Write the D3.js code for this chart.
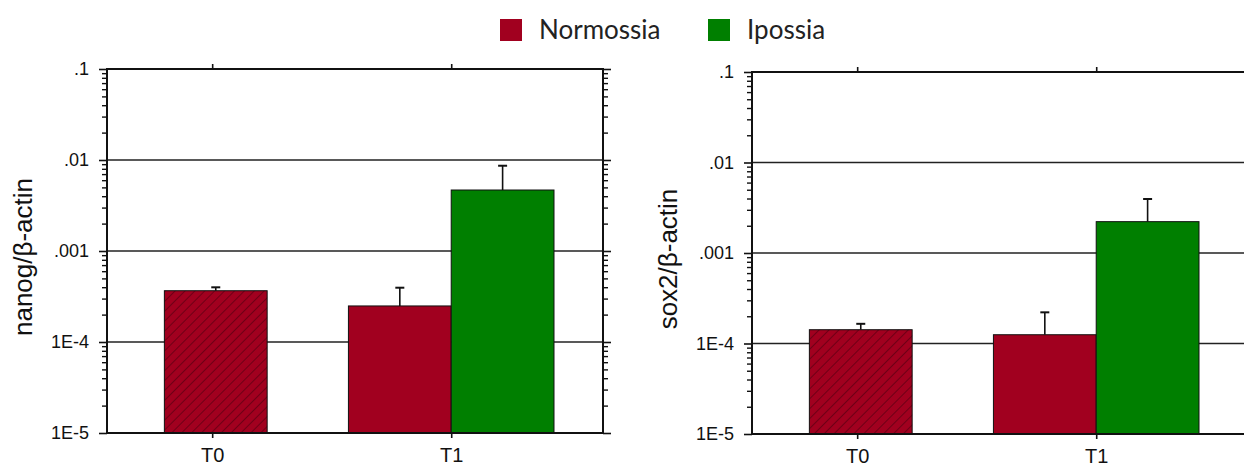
<!DOCTYPE html>
<html>
<head>
<meta charset="utf-8">
<script src="https://cdn.jsdelivr.net/npm/d3@7"></script>
<style>
  html, body { margin: 0; padding: 0; background: #fff; }
  svg { display: block; }
</style>
</head>
<body>
<svg id="chart" width="1244" height="471"></svg>
<script>
// ---- data ----
const categories = ["T0", "T1"];
const seriesNames = ["Normossia", "Ipossia"];

// nanog / β-actin (mean and upper SD)
const nanogNormossia = [3.66e-4, 2.49e-4];
const nanogNormossiaSd = [0.33e-4, 1.46e-4];
const nanogIpossia = [null, 4.68e-3];
const nanogIpossiaSd = [null, 3.97e-3];

// sox2 / β-actin (mean and upper SD)
const sox2Normossia = [1.42e-4, 1.25e-4];
const sox2NormossiaSd = [0.23e-4, 0.96e-4];
const sox2Ipossia = [null, 2.22e-3];
const sox2IpossiaSd = [null, 1.73e-3];

const yMajorTicks = [1e-5, 1e-4, 1e-3, 1e-2, 1e-1];
const yTickLabels = ["1E-5", "1E-4", ".001", ".01", ".1"];

// ---- style ----
const RED = "#A1001F";
const GREEN = "#007F00";
const AXIS_FONT = "'Liberation Sans', Arial, sans-serif";

const svg = d3.select("#chart");

const defs = svg.append("defs");
defs.append("pattern")
  .attr("id", "hatch")
  .attr("patternUnits", "userSpaceOnUse")
  .attr("width", 7).attr("height", 7)
  .attr("patternTransform", "rotate(45)")
  .append("line")
  .attr("x1", 0).attr("y1", 0).attr("x2", 0).attr("y2", 7)
  .attr("stroke", "#2a0008").attr("stroke-width", 1).attr("stroke-opacity", 0.85);

const panels = [
  { label: "nanog/β-actin", norm: nanogNormossia, normSd: nanogNormossiaSd,
    ipo: nanogIpossia, ipoSd: nanogIpossiaSd,
    left: 107, width: 496, top: 69, bottom: 433 },
  { label: "sox2/β-actin", norm: sox2Normossia, normSd: sox2NormossiaSd,
    ipo: sox2Ipossia, ipoSd: sox2IpossiaSd,
    left: 752, width: 496, top: 72, bottom: 434 }
];

function drawPanel(p) {
  const g = svg.append("g");
  const right = p.left + p.width;
  const y = d3.scaleLog().domain([1e-5, 0.1]).range([p.bottom, p.top]);
  // category index -> pixel
  const x = d3.scaleLinear().domain([-0.44, 1.635]).range([p.left, right]);
  const bw = x(0.43) - x(0);

  // minor tick values (2..9 of every decade)
  const minor = [];
  for (let e = -5; e < -1; e++) {
    for (let m = 2; m <= 9; m++) minor.push(m * Math.pow(10, e));
  }

  // grid lines at inner decades
  g.append("g").selectAll("line")
    .data(yMajorTicks.slice(1, 4))
    .join("line")
    .attr("x1", p.left).attr("x2", right)
    .attr("y1", d => y(d)).attr("y2", d => y(d))
    .attr("stroke", "#222").attr("stroke-width", 1.6);

  // bars
  const bars = [];
  categories.forEach((c, i) => {
    const hasN = p.norm[i] != null, hasI = p.ipo[i] != null;
    if (hasN && hasI) {
      bars.push({ i, v: p.norm[i], sd: p.normSd[i], x0: x(i) - bw, color: RED, hatch: false });
      bars.push({ i, v: p.ipo[i], sd: p.ipoSd[i], x0: x(i), color: GREEN, hatch: false });
    } else if (hasN) {
      bars.push({ i, v: p.norm[i], sd: p.normSd[i], x0: x(i + 0.015) - bw / 2, color: RED, hatch: true });
    } else if (hasI) {
      bars.push({ i, v: p.ipo[i], sd: p.ipoSd[i], x0: x(i + 0.015) - bw / 2, color: GREEN, hatch: false });
    }
  });

  const bg = g.append("g");
  bars.forEach(b => {
    const top = y(b.v);
    bg.append("rect")
      .attr("x", b.x0).attr("y", top)
      .attr("width", bw).attr("height", p.bottom - top)
      .attr("fill", b.color);
    if (b.hatch) {
      bg.append("rect")
        .attr("x", b.x0).attr("y", top)
        .attr("width", bw).attr("height", p.bottom - top)
        .attr("fill", "url(#hatch)");
    }
    bg.append("rect")
      .attr("x", b.x0).attr("y", top)
      .attr("width", bw).attr("height", p.bottom - top)
      .attr("fill", "none").attr("stroke", "#111").attr("stroke-width", 1);
    // upper error bar
    const cx = b.x0 + bw / 2;
    const et = y(b.v + b.sd);
    bg.append("line").attr("x1", cx).attr("x2", cx).attr("y1", top).attr("y2", et)
      .attr("stroke", "#111").attr("stroke-width", 1.6);
    bg.append("line").attr("x1", cx - 4.5).attr("x2", cx + 4.5).attr("y1", et).attr("y2", et)
      .attr("stroke", "#111").attr("stroke-width", 2);
  });

  // left axis: major ticks with labels, minor ticks without
  const leftMajor = d3.axisLeft(y).tickValues(yMajorTicks).tickSize(8)
    .tickFormat((d, k) => yTickLabels[k]).tickPadding(10);
  const la = g.append("g").attr("transform", `translate(${p.left},0)`).call(leftMajor);
  la.select(".domain").remove();
  la.selectAll("line").attr("stroke", "#111").attr("stroke-width", 1.6);
  la.selectAll("text").attr("font-family", AXIS_FONT).attr("font-size", 18).attr("fill", "#111");

  const leftMinor = d3.axisLeft(y).tickValues(minor).tickSize(5).tickFormat("");
  const lm = g.append("g").attr("transform", `translate(${p.left},0)`).call(leftMinor);
  lm.select(".domain").remove();
  lm.selectAll("line").attr("stroke", "#111").attr("stroke-width", 1.4);

  // right axis ticks (mirrored, no labels)
  const ra = g.append("g").attr("transform", `translate(${right},0)`)
    .call(d3.axisRight(y).tickValues(yMajorTicks).tickSize(8).tickFormat(""));
  ra.select(".domain").remove();
  ra.selectAll("line").attr("stroke", "#111").attr("stroke-width", 1.6);
  const rm = g.append("g").attr("transform", `translate(${right},0)`)
    .call(d3.axisRight(y).tickValues(minor).tickSize(5).tickFormat(""));
  rm.select(".domain").remove();
  rm.selectAll("line").attr("stroke", "#111").attr("stroke-width", 1.4);

  // bottom axis with category labels
  const bx = g.append("g").attr("transform", `translate(0,${p.bottom})`)
    .call(d3.axisBottom(x).tickValues(d3.range(categories.length)).tickSize(5)
      .tickFormat(i => categories[i]).tickPadding(10));
  bx.select(".domain").remove();
  bx.selectAll("line").attr("stroke", "#111").attr("stroke-width", 1.6);
  bx.selectAll("text").attr("font-family", AXIS_FONT).attr("font-size", 20).attr("fill", "#111");

  // top axis ticks (no labels)
  const tx = g.append("g").attr("transform", `translate(0,${p.top})`)
    .call(d3.axisTop(x).tickValues(d3.range(categories.length)).tickSize(5).tickFormat(""));
  tx.select(".domain").remove();
  tx.selectAll("line").attr("stroke", "#111").attr("stroke-width", 1.6);

  // frame
  g.append("rect")
    .attr("x", p.left).attr("y", p.top)
    .attr("width", p.width).attr("height", p.bottom - p.top)
    .attr("fill", "none").attr("stroke", "#111").attr("stroke-width", 2);

  // y title
  const cy = (p.top + p.bottom) / 2 + 6;
  g.append("text")
    .attr("transform", `translate(${p.left - 75},${cy}) rotate(-90)`)
    .attr("text-anchor", "middle")
    .attr("font-family", AXIS_FONT).attr("font-size", 26).attr("fill", "#111")
    .text(p.label);
}

panels.forEach(drawPanel);

// legend
const legend = svg.append("g").attr("transform", "translate(500,19)");
const legendItems = [
  { name: seriesNames[0], color: RED, dx: 0 },
  { name: seriesNames[1], color: GREEN, dx: 208 }
];
legendItems.forEach(it => {
  legend.append("rect").attr("x", it.dx).attr("y", 0).attr("width", 22).attr("height", 22)
    .attr("fill", it.color);
  legend.append("text").attr("x", it.dx + 39).attr("y", 20)
    .attr("font-family", "Lato, 'Open Sans', sans-serif").attr("font-size", 26)
    .attr("fill", "#222").text(it.name);
});
</script>
</body>
</html>
